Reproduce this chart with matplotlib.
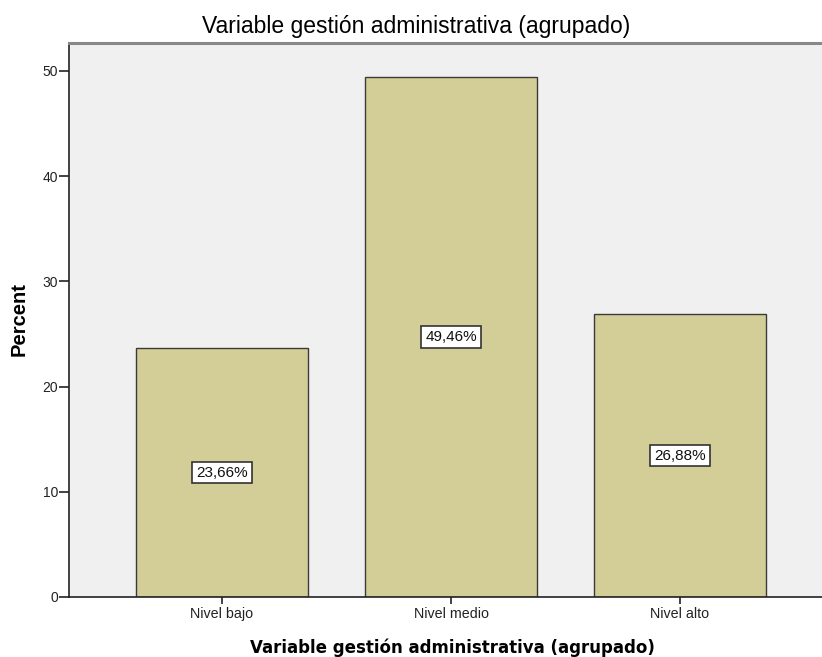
import matplotlib
matplotlib.use('Agg')
import matplotlib.pyplot as plt

categories = ['Nivel bajo', 'Nivel medio', 'Nivel alto']
percents = [23.66, 49.46, 26.88]
yticks = [0, 10, 20, 30, 40, 50]

W, H = 822, 657
fig = plt.figure(figsize=(W / 100, H / 100), dpi=100)
fig.patch.set_facecolor('white')

# plot area runs past the right edge like the original export
left, top, bottom, right = 69, 43, 597, 833
ax = fig.add_axes([left / W, (H - bottom) / H, (right - left) / W, (bottom - top) / H])
ax.set_facecolor('#f0f0f0')

xs = range(len(categories))
ax.bar(xs, percents, width=0.751, color='#d3ce97', edgecolor='#3a3a3a', linewidth=1.0, zorder=2)

for x, v in zip(xs, percents):
    ax.text(x, v / 2, f'{v:.2f}%'.replace('.', ','), ha='center', va='center',
            fontsize=11, family='Liberation Sans', color='#111111', zorder=3,
            bbox=dict(boxstyle='square,pad=0.25', facecolor='white', edgecolor='#333333', linewidth=1.2))

ax.set_xlim(-0.668, 2.668)
ax.set_ylim(0, 52.66)
ax.set_xticks(list(xs))
ax.set_xticklabels(categories, fontsize=10.3, family='Liberation Sans', color='#222222')
ax.set_yticks(yticks)
ax.set_yticklabels([str(t) for t in yticks], fontsize=10, family='Liberation Sans', color='#222222')
ax.tick_params(axis='y', length=7, width=1.2, color='#222222', pad=1)
ax.tick_params(axis='x', length=5, width=1.2, color='#222222', pad=2, direction='out')

for s in ['left', 'bottom']:
    ax.spines[s].set_color('#222222')
    ax.spines[s].set_linewidth(1.2)
ax.spines['top'].set_color('#888888')
ax.spines['top'].set_linewidth(2.2)
ax.spines['right'].set_visible(False)

fig.text(19.5 / W, 1 - 319 / H, 'Percent', rotation=90, ha='center', va='center',
         fontsize=14.5, fontweight='bold', family='Liberation Sans')
fig.text(452 / W, 1 - 653 / H, 'Variable gestión administrativa (agrupado)', ha='center', va='baseline',
         fontsize=12, fontweight='bold', family='DejaVu Sans')
fig.text(416 / W, 1 - 33 / H, 'Variable gestión administrativa (agrupado)', ha='center', va='baseline',
         fontsize=16.5, family='Liberation Sans')

fig.savefig('out.png', dpi=100)
